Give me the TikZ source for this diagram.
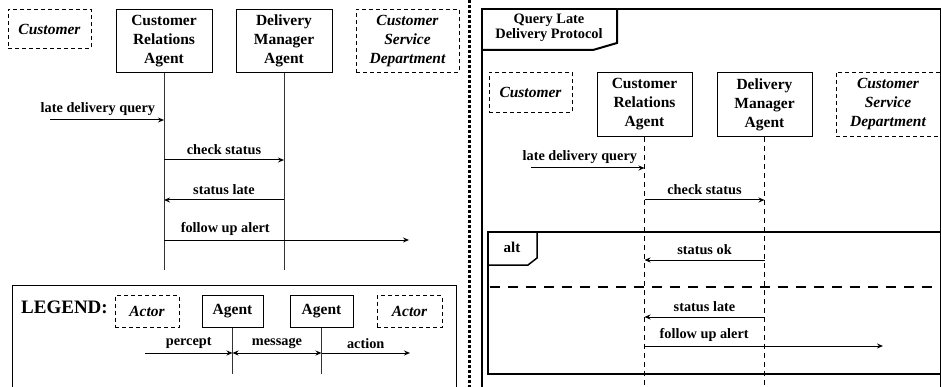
\documentclass[tikz,border=0pt]{standalone}
\usepackage{fontspec}
\setmainfont{Liberation Serif}
\usetikzlibrary{arrows.meta,positioning,calc}

\begin{document}
\begin{tikzpicture}[x=1pt,y=-1pt,>={Stealth[length=6pt,width=5pt]},
 box/.style={draw,line width=1pt,align=center,inner sep=0pt,anchor=north,font=\fontsize{15.5}{19}\selectfont\bfseries},
 agent/.style={box,minimum width=96pt,minimum height=63pt},
 actor/.style={box,dash pattern=on 4pt off 3pt,font=\fontsize{15.5}{19}\selectfont\bfseries\itshape},
 life/.style={line width=1pt,black!80},
 lifed/.style={line width=0.9pt,dash pattern=on 5pt off 4pt},
 msg/.style={line width=1pt,->},
 lbl/.style={above=1pt,font=\fontsize{14.3}{17}\selectfont\bfseries}]
 \useasboundingbox (0,0) rectangle (941,387);
 \clip (0,0) rectangle (941,387);
 % left: plain sequence
 \node[actor,minimum width=83pt,minimum height=39pt] (cust) at (49.5,9) {Customer};
 \node[agent] (cra) at (164,9) {Customer\\Relations\\Agent};
 \node[agent] (dma) at (284,9) {Delivery\\Manager\\Agent};
 \node[actor,minimum width=103pt,minimum height=63pt] (csd) at (407.5,9) {Customer\\Service\\Department};
 \draw[life] (cra.south) -- (cra.south |- 0,270);
 \draw[life] (dma.south) -- (dma.south |- 0,270);
 \coordinate (q1) at (50,120);
 \draw[msg] (q1) -- (q1 -| cra) node[lbl,pos=.42] {late delivery query};
 \draw[msg] (cra |- 0,160) -- (dma |- 0,160) node[lbl,midway] {check status};
 \draw[msg] (dma |- 0,200) -- (cra |- 0,200) node[lbl,midway] {status late};
 \coordinate (f1) at (409,240);
 \draw[msg] (f1 -| cra) -- (f1) node[lbl,pos=.25] {follow up alert};
 % legend
 \draw[line width=1pt] (12,400) -- (12,285) -- (456,285) -- (456,400);
 \node[font=\fontsize{19}{22}\selectfont\bfseries,anchor=base west,inner sep=0pt] (leg) at (21,313) {LEGEND:};
 \node[actor,minimum width=64pt,minimum height=32pt] (act1) at (147,295) {Actor};
 \node[box,minimum width=61pt,minimum height=32pt] (ag1) at (232.5,295) {Agent};
 \node[box,minimum width=63pt,minimum height=32pt] (ag2) at (321.5,295) {Agent};
 \node[actor,minimum width=65pt,minimum height=32pt] (act2) at (409.5,295) {Actor};
 \draw[life] (ag1.south) -- (ag1.south |- 0,374);
 \draw[life] (ag2.south) -- (ag2.south |- 0,374);
 \coordinate (p1) at (145,353);
 \draw[msg] (p1) -- (p1 -| ag1) node[lbl,midway] {percept};
 \draw[msg,<->] (p1 -| ag1) -- (p1 -| ag2) node[lbl,midway] {message};
 \coordinate (a1) at (410,353);
 \draw[msg] (a1 -| ag2) -- (a1) node[lbl,midway] {action};
 % separator
 \draw[line width=3pt,dash pattern=on 3pt off 2pt] (469,0) -- (469,387);
 % right: protocol frame
 \draw[line width=2.4pt] (482,400) -- (482,9) -- (941,9) -- (941,400);
 \draw[line width=2pt] (482,50) -- (593,50) -- (617,43) -- (617,9);
 \node[font=\fontsize{14.4}{15}\selectfont\bfseries,align=center] (title) at (549,28) {Query Late\\Delivery Protocol};
 \node[actor,minimum width=83pt,minimum height=40pt] (cust2) at (530.5,72) {Customer};
 \node[agent,minimum width=95pt,minimum height=64pt] (cra2) at (644.5,72) {Customer\\Relations\\Agent};
 \node[agent,minimum width=95pt,minimum height=64pt] (dma2) at (764.5,72) {Delivery\\Manager\\Agent};
 \node[actor,minimum width=104pt,minimum height=64pt] (csd2) at (888,72) {Customer\\Service\\Department};
 \draw[lifed] (cra2.south) -- (cra2.south |- 0,390);
 \draw[lifed] (dma2.south) -- (dma2.south |- 0,390);
 \coordinate (q2) at (531,168);
 \draw[msg] (q2) -- (q2 -| cra2) node[lbl,pos=.43] {late delivery query};
 \draw[msg] (cra2 |- 0,200) -- (dma2 |- 0,200) node[lbl,midway] {check status};
 % alt fragment
 \draw[line width=2pt] (488,232) rectangle (941,374);
 \draw[line width=1.5pt] (488,265) -- (528,265) -- (537,258) -- (537,232);
 \node[font=\fontsize{15}{18}\selectfont\bfseries] (alt) at (512,247) {alt};
 \draw[msg] (dma2 |- 0,260) -- (cra2 |- 0,260) node[lbl,midway] {status ok};
 \draw[line width=2pt,dash pattern=on 10pt off 8pt] (490,287) -- (941,287);
 \draw[msg] (dma2 |- 0,317) -- (cra2 |- 0,317) node[lbl,midway] {status late};
 \coordinate (f2) at (883,346);
 \draw[msg] (f2 -| cra2) -- (f2) node[lbl,pos=.25] {follow up alert};
\end{tikzpicture}
\end{document}
